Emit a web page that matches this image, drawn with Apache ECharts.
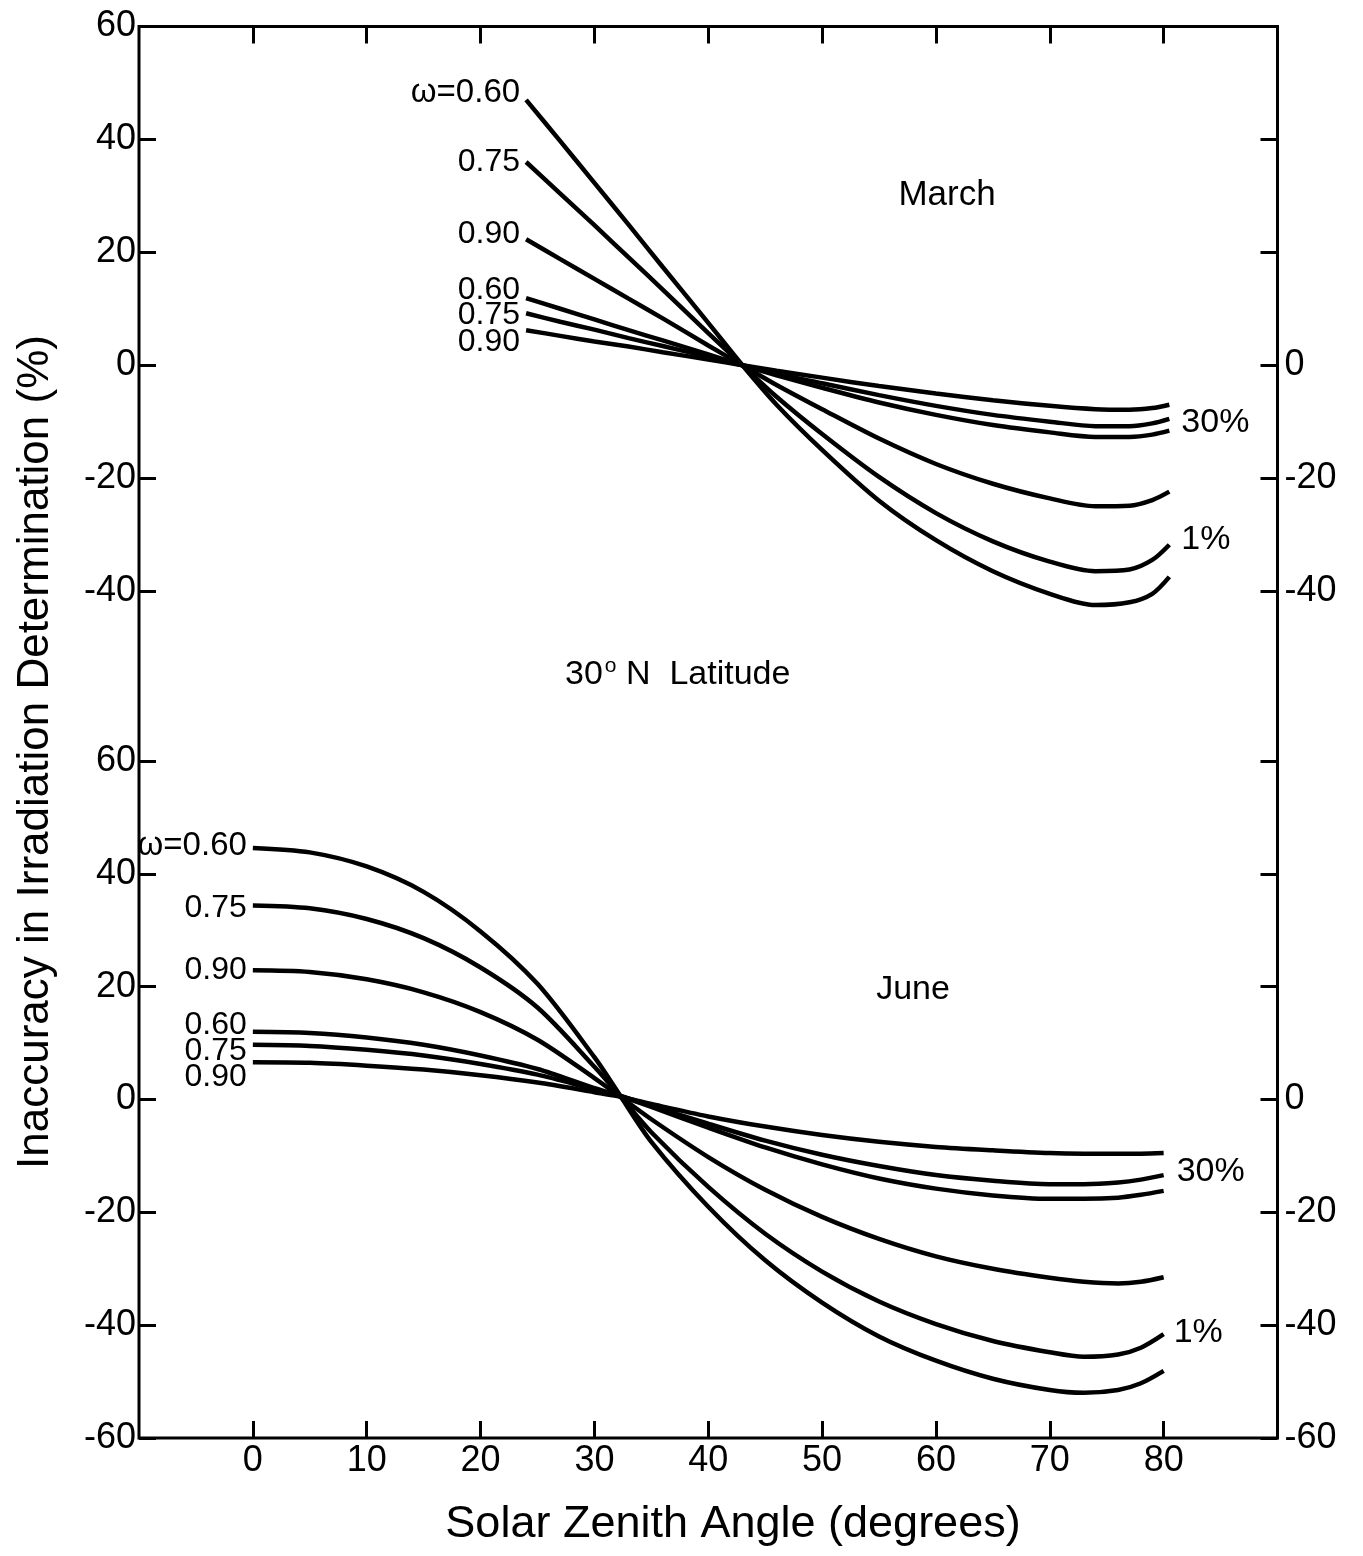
<!DOCTYPE html>
<html>
<head>
<meta charset="utf-8">
<script src="https://cdn.jsdelivr.net/npm/echarts@6/dist/echarts.min.js"></script>
<style>
  html, body { margin: 0; padding: 0; background: #fff; }
  #chart { width: 1363px; height: 1556px; }
</style>
</head>
<body>
<div id="chart"></div>
<script>
// solar zenith angle (degrees) sampled for each panel
const marchAngles = [24, 27, 30, 33, 36, 40, 43, 46, 50, 55, 60, 65, 70, 74, 77, 79, 80.5]
const juneAngles = [0, 5, 10, 15, 20, 25, 30, 32, 35, 40, 45, 50, 55, 60, 65, 70, 73, 76, 78, 80]

// March, 1% group
const mar60_1 = [47, 39.7, 32.3, 24.9, 17.4, 7.5, 0, -7, -15, -24, -31, -36.5, -40.5, -42.5, -42, -40.5, -37.5]
const mar75_1 = [36, 30.4, 24.8, 19.1, 13.4, 5.7, 0, -5.6, -12.2, -19.8, -26.2, -31.2, -34.8, -36.5, -36.2, -34.5, -31.8]
const mar90_1 = [22.3, 18.8, 15.3, 11.8, 8.3, 3.5, 0, -3.5, -7.8, -13, -17.5, -21, -23.6, -25, -24.9, -23.9, -22.4]
// March, 30% group
const mar60_30 = [11.9, 10, 8.1, 6.2, 4.4, 1.9, 0, -1.8, -4, -6.6, -8.8, -10.6, -11.9, -12.7, -12.7, -12.3, -11.6]
const mar75_30 = [9.2, 7.7, 6.3, 4.8, 3.4, 1.5, 0, -1.5, -3.2, -5.3, -7.2, -8.8, -10, -10.8, -10.8, -10.3, -9.5]
const mar90_30 = [6.2, 5.2, 4.2, 3.3, 2.3, 1, 0, -1, -2.2, -3.7, -5, -6.2, -7.2, -7.8, -7.9, -7.6, -7]

// June, 1% group
const jun60_1 = [44.6, 43.8, 41.3, 36.8, 29.8, 20.5, 7.5, 1.5, -7.5, -19, -28.5, -36, -42, -46.3, -49.5, -51.5, -52, -51.5, -50.3, -48.1]
const jun75_1 = [34.4, 33.9, 32, 28.6, 23.4, 16.3, 5.8, 1.2, -5.8, -15.5, -23.8, -30.5, -35.8, -39.8, -42.8, -44.8, -45.6, -45.2, -44, -41.6]
const jun90_1 = [22.9, 22.6, 21.3, 19, 15.5, 10.6, 3.8, 0.9, -3.5, -10.2, -16, -20.8, -24.7, -27.8, -30, -31.6, -32.3, -32.6, -32.3, -31.5]
// June, 30% group
const jun60_30 = [12, 11.8, 11, 9.7, 7.8, 5.4, 2, 0.8, -1.3, -5, -8.5, -11.5, -14, -15.8, -17, -17.6, -17.6, -17.4, -16.9, -16.2]
const jun75_30 = [9.7, 9.5, 8.8, 7.8, 6.3, 4.4, 1.8, 0.8, -1.1, -4.3, -7.3, -9.8, -11.8, -13.4, -14.4, -15, -15, -14.7, -14.2, -13.4]
const jun90_30 = [6.6, 6.5, 6, 5.3, 4.3, 3, 1.3, 0.6, -0.8, -3, -4.8, -6.3, -7.5, -8.4, -9, -9.5, -9.6, -9.6, -9.6, -9.5]

// tick values / labels
const xTicks = [0, 10, 20, 30, 40, 50, 60, 70, 80]
const marTicks = [-40, -20, 0, 20, 40, 60]
const marRightLabels = [-40, -20, 0]
const junTicks = [-60, -40, -20, 0, 20, 40, 60]
const junRightLabels = [-60, -40, -20, 0]

const FONT = "'Liberation Sans', Arial, Helvetica, sans-serif"
const FRAME = { left: 139, right: 1277.5, top: 26.5, bottom: 1438 }

const tickStyle = { inside: true, length: 17, lineStyle: { color: '#000', width: 3 } }
const labelStyle = { color: '#000', fontSize: 36, fontFamily: FONT }

function yAxisFor (gridIndex, min, max, ticks, labels, pos) {
  return {
    type: 'value',
    gridIndex: gridIndex,
    position: pos,
    min: min,
    max: max,
    axisLine: { show: false, onZero: false },
    splitLine: { show: false },
    axisTick: Object.assign({ customValues: ticks }, tickStyle),
    axisLabel: Object.assign({ customValues: labels, margin: pos === 'left' ? 3 : 7 }, labelStyle)
  }
}

function curve (grid, angles, vals, tag, dy, endText, endDy, endDist) {
  const data = angles.map((a, i) => [a, vals[i]])
  data[0] = {
    value: data[0],
    label: {
      show: true,
      position: 'left',
      distance: 6,
      offset: [0, dy],
      formatter: tag,
      color: '#000',
      fontSize: tag.length > 4 ? 33 : 32,
      fontFamily: FONT
    }
  }
  const s = {
    type: 'line',
    xAxisIndex: grid,
    yAxisIndex: grid * 2,
    data: data,
    smooth: 0.3,
    symbol: 'circle',
    symbolSize: 0,
    showSymbol: true,
    clip: false,
    silent: true,
    label: { show: false },
    lineStyle: { color: '#000', width: 4.5 },
    itemStyle: { color: '#000' }
  }
  if (endText) {
    s.endLabel = {
      show: true,
      formatter: endText,
      distance: endDist,
      offset: [0, endDy],
      color: '#000',
      fontSize: 34,
      fontFamily: FONT
    }
  }
  return s
}

const chart = echarts.init(document.getElementById('chart'))
const gridW = FRAME.right - FRAME.left

chart.setOption({
  animation: false,
  backgroundColor: '#fff',
  grid: [
    { left: FRAME.left, top: FRAME.top, width: gridW, height: 564.5 },
    { left: FRAME.left, top: 761, width: gridW, height: FRAME.bottom - 761 }
  ],
  xAxis: [
    {
      type: 'value', gridIndex: 0, position: 'top', min: -10, max: 90,
      axisLine: { show: false, onZero: false }, splitLine: { show: false },
      axisTick: Object.assign({ customValues: xTicks }, tickStyle),
      axisLabel: { show: false }
    },
    {
      type: 'value', gridIndex: 1, position: 'bottom', min: -10, max: 90,
      axisLine: { show: false, onZero: false }, splitLine: { show: false },
      axisTick: Object.assign({ customValues: xTicks }, tickStyle),
      axisLabel: Object.assign({ customValues: xTicks, margin: 5 }, labelStyle)
    }
  ],
  yAxis: [
    yAxisFor(0, -40, 60, marTicks, marTicks, 'left'),
    yAxisFor(0, -40, 60, marTicks, marRightLabels, 'right'),
    yAxisFor(1, -60, 60, junTicks, junTicks, 'left'),
    yAxisFor(1, -60, 60, junTicks, junRightLabels, 'right')
  ],
  series: [
    curve(0, marchAngles, mar60_1, 'ω=0.60', -7),
    curve(0, marchAngles, mar75_1, '0.75', 0, '1%', -5, 12),
    curve(0, marchAngles, mar90_1, '0.90', -5),
    curve(0, marchAngles, mar60_30, '0.60', -8),
    curve(0, marchAngles, mar75_30, '0.75', 2, '30%', 4, 12),
    curve(0, marchAngles, mar90_30, '0.90', 12),
    curve(1, juneAngles, jun60_1, 'ω=0.60', -2),
    curve(1, juneAngles, jun75_1, '0.75', 3, '1%', -2, 10),
    curve(1, juneAngles, jun90_1, '0.90', 0),
    curve(1, juneAngles, jun60_30, '0.60', -7),
    curve(1, juneAngles, jun75_30, '0.75', 6, '30%', -3, 13),
    curve(1, juneAngles, jun90_30, '0.90', 15)
  ],
  graphic: [
    {
      type: 'rect', z: 100, silent: true,
      shape: { x: FRAME.left, y: FRAME.top, width: gridW, height: FRAME.bottom - FRAME.top },
      style: { fill: 'none', stroke: '#000', lineWidth: 3 }
    },
    {
      type: 'text', x: 36, y: 752, rotation: Math.PI / 2,
      style: { text: 'Inaccuracy in Irradiation Determination (%)', fontSize: 44, fontFamily: FONT, fill: '#000', align: 'center', verticalAlign: 'middle' }
    },
    {
      type: 'text', x: 733, y: 1525,
      style: { text: 'Solar Zenith Angle (degrees)', fontSize: 45, fontFamily: FONT, fill: '#000', align: 'center', verticalAlign: 'middle' }
    },
    {
      type: 'text', x: 947, y: 195,
      style: { text: 'March', fontSize: 35, fontFamily: FONT, fill: '#000', align: 'center', verticalAlign: 'middle' }
    },
    {
      type: 'text', x: 913, y: 990,
      style: { text: 'June', fontSize: 34, fontFamily: FONT, fill: '#000', align: 'center', verticalAlign: 'middle' }
    },
    {
      type: 'text', x: 565, y: 675,
      style: {
        text: '{a|30}{s|o}{a| N  Latitude}',
        fill: '#000',
        verticalAlign: 'middle',
        rich: {
          a: { fontSize: 34, fontFamily: FONT, fill: '#000' },
          s: { fontSize: 21, fontFamily: FONT, fill: '#000', padding: [0, 0, 18, 2] }
        }
      }
    }
  ]
})
</script>
</body>
</html>
